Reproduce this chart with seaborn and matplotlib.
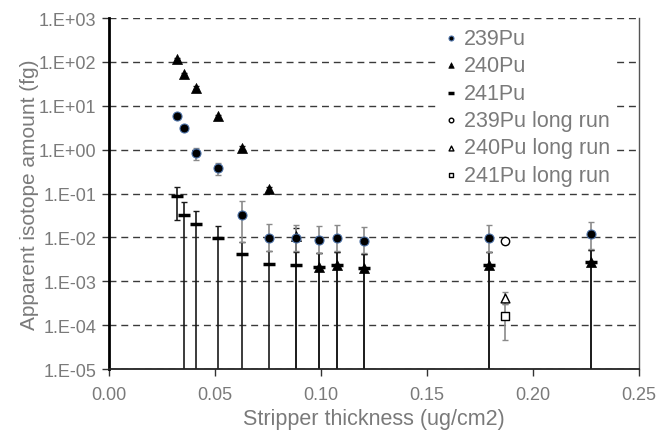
import numpy as np
import pandas as pd
import matplotlib
matplotlib.use("Agg")
import matplotlib.pyplot as plt
import seaborn as sns
from matplotlib.ticker import FixedLocator, FuncFormatter

# Stripper thickness (ug/cm2)
thickness = [0.0322, 0.0355, 0.0408, 0.0516, 0.0628, 0.0756,
             0.0883, 0.0991, 0.1075, 0.1204, 0.1792, 0.2274]

# Apparent isotope amounts (fg) with lower / upper error limits
pu239 = [5.7, 3.1, 0.84, 0.377, 0.033, 0.0098, 0.0097, 0.0089, 0.0097, 0.0084, 0.0097, 0.0117]
pu239_lo = [5.2, 2.8, 0.57, 0.26, 0.008, 0.005, 0.005, 0.0045, 0.005, 0.0045, 0.0047, 0.0054]
pu239_hi = [6.2, 3.4, 1.10, 0.49, 0.066, 0.020, 0.019, 0.018, 0.019, 0.017, 0.019, 0.022]

pu240 = [115, 54, 26, 5.7, 1.09, 0.125, 0.0105, 0.0021, 0.0023, 0.0020, 0.0023, 0.0028]
pu240_lo = [110, 51, 24, 5.3, 1.0, 0.11, 0.0, 0.0, 0.0, 0.0, 0.0, 0.0]
pu240_hi = [120, 57, 28, 6.1, 1.18, 0.14, 0.0166, 0.0044, 0.0047, 0.0042, 0.0046, 0.0052]

pu241 = [0.087, 0.032, 0.020, 0.0095, 0.0041, 0.0025, 0.0024, 0.0021, 0.0023, 0.0020, 0.0023, 0.0028]
pu241_lo = [0.0246, 0.0, 0.0, 0.0, 0.0, 0.0, 0.0, 0.0, 0.0, 0.0, 0.0, 0.0]
pu241_hi = [0.144, 0.063, 0.040, 0.018, 0.008, 0.005, 0.0047, 0.0044, 0.0047, 0.0042, 0.0046, 0.0052]

# Long-run measurement
long_thickness = [0.1866]
pu239_long = [0.0081]
pu239_long_lo = [0.0070]
pu239_long_hi = [0.0095]
pu240_long = [0.00041]
pu240_long_lo = [0.00030]
pu240_long_hi = [0.00057]
pu241_long = [0.000162]
pu241_long_lo = [0.000047]
pu241_long_hi = [0.00030]

y_ticks = [1e-5, 1e-4, 1e-3, 1e-2, 1e-1, 1e0, 1e1, 1e2, 1e3]
x_ticks = [0.00, 0.05, 0.10, 0.15, 0.20, 0.25]

sns.set_theme(style="white")
plt.rcParams["font.family"] = ["Liberation Sans", "DejaVu Sans"]

fig = plt.figure(figsize=(6.59, 4.31), dpi=100)
ax = fig.add_axes([0.1654, 0.1415, 0.8043, 0.8144])
ax.set_yscale("log")
ax.set_xlim(0, 0.25)
ax.set_ylim(1e-5, 1e3)

for y in y_ticks:
    ax.axhline(y, color="#3a3a3a", lw=1.0, ls=(0, (5, 3.5)), zorder=0.5)


def yerr(vals, lo, hi):
    v = np.asarray(vals, float)
    return [v - np.asarray(lo, float), np.asarray(hi, float) - v]


ax.errorbar(thickness, pu241, yerr=yerr(pu241, pu241_lo, pu241_hi), fmt="none",
            ecolor="#1a1a1a", elinewidth=1.2, capsize=2.5, capthick=1.0, zorder=2)
ax.errorbar(thickness, pu240, yerr=yerr(pu240, pu240_lo, pu240_hi), fmt="none",
            ecolor="#1a1a1a", elinewidth=1.2, capsize=2.5, capthick=1.0, zorder=2)
ax.errorbar(thickness, pu239, yerr=yerr(pu239, pu239_lo, pu239_hi), fmt="none",
            ecolor="#8a8a8a", elinewidth=1.2, capsize=2.5, capthick=1.0, zorder=2.5)
for xs, v, lo, hi in [(long_thickness, pu239_long, pu239_long_lo, pu239_long_hi),
                      (long_thickness, pu240_long, pu240_long_lo, pu240_long_hi),
                      (long_thickness, pu241_long, pu241_long_lo, pu241_long_hi)]:
    ax.errorbar(xs, v, yerr=yerr(v, lo, hi), fmt="none", ecolor="#8a8a8a",
                elinewidth=1.2, capsize=2.5, capthick=1.0, zorder=2)

df = pd.DataFrame({"thickness": thickness, "239Pu": pu239, "240Pu": pu240, "241Pu": pu241})
sns.scatterplot(data=df, x="thickness", y="239Pu", ax=ax, marker="o", s=42,
                color="black", edgecolor="#4a6fa5", linewidth=0.8, label="239Pu", zorder=4)
sns.scatterplot(data=df, x="thickness", y="240Pu", ax=ax, marker="^", s=52,
                color="black", edgecolor="black", linewidth=0.5, label="240Pu", zorder=3.5)
sns.scatterplot(data=df, x="thickness", y="241Pu", ax=ax, marker="_", s=64,
                color="black", linewidth=2.5, label="241Pu", zorder=3.6)

dl = pd.DataFrame({"thickness": long_thickness, "239": pu239_long,
                   "240": pu240_long, "241": pu241_long})
sns.scatterplot(data=dl, x="thickness", y="239", ax=ax, marker="o", s=36,
                facecolor="white", edgecolor="black", linewidth=1.0,
                label="239Pu long run", zorder=4)
sns.scatterplot(data=dl, x="thickness", y="240", ax=ax, marker="^", s=40,
                facecolor="white", edgecolor="black", linewidth=1.0,
                label="240Pu long run", zorder=4)
sns.scatterplot(data=dl, x="thickness", y="241", ax=ax, marker="s", s=40,
                facecolor="white", edgecolor="black", linewidth=1.0,
                label="241Pu long run", zorder=4)

ax.yaxis.set_major_locator(FixedLocator(y_ticks))
ax.yaxis.set_minor_locator(FixedLocator([]))
ax.yaxis.set_major_formatter(FuncFormatter(
    lambda v, p: "1.E{:+03d}".format(int(round(np.log10(v))))))
ax.xaxis.set_major_locator(FixedLocator(x_ticks))
ax.xaxis.set_major_formatter(FuncFormatter(lambda v, p: f"{v:.2f}"))

ax.tick_params(axis="both", which="major", direction="out", length=5, width=1,
               color="#333333", labelcolor="#7a7a7a", labelsize=13,
               left=True, bottom=True)
ax.tick_params(axis="x", pad=7)
ax.tick_params(axis="y", pad=4)

ax.set_xlabel("Stripper thickness (ug/cm2)", color="#7a7a7a", fontsize=15.5, labelpad=4)
ax.set_ylabel("Apparent isotope amount (fg)", color="#7a7a7a", fontsize=15, labelpad=0)

for side in ["left", "bottom", "right", "top"]:
    ax.spines[side].set_visible(True)
ax.spines["left"].set_color("black")
ax.spines["left"].set_linewidth(2.0)
ax.spines["bottom"].set_color("#222222")
ax.spines["bottom"].set_linewidth(1.3)
ax.spines["right"].set_color("#555555")
ax.spines["right"].set_linewidth(1.0)
ax.spines["top"].set_visible(False)

leg = ax.legend(loc="upper right", bbox_to_anchor=(0.958, 0.991), frameon=True,
                facecolor="white", edgecolor="none", framealpha=1.0,
                fontsize=15.5, markerscale=0.55, handlelength=0.5,
                handletextpad=0.35, labelspacing=0.3, borderpad=0.3,
                borderaxespad=0.0)
for t in leg.get_texts():
    t.set_color("#7a7a7a")

fig.savefig("out.png", dpi=100)
